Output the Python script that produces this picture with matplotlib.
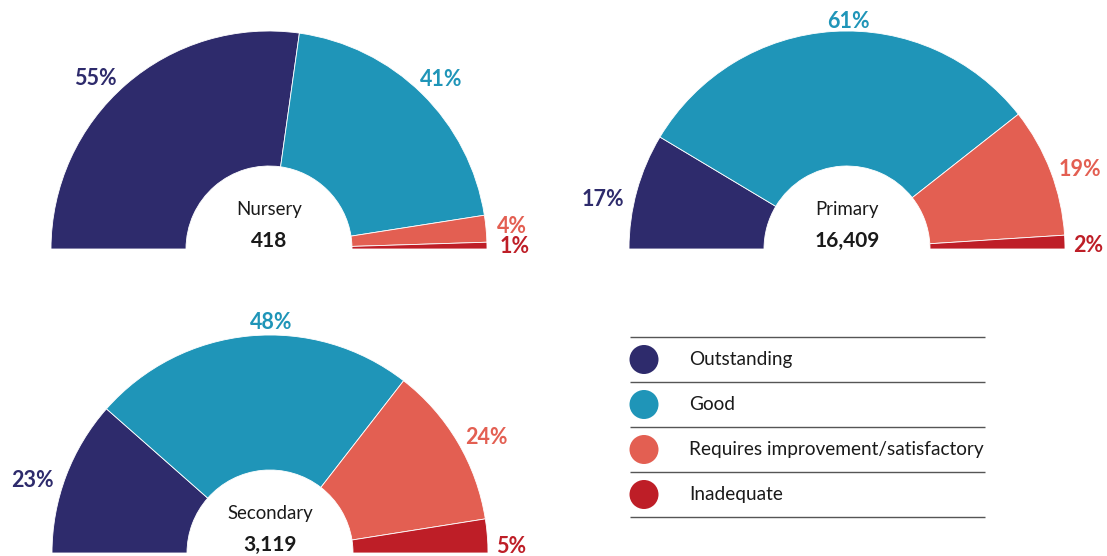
import matplotlib
matplotlib.use("Agg")
import matplotlib.pyplot as plt
from matplotlib.patches import Circle
import numpy as np

plt.rcParams['font.family'] = ['Lato', 'DejaVu Sans']

# ---- data ----
categories = ["Outstanding", "Good", "Requires improvement/satisfactory", "Inadequate"]
colors = ["#2E2B6C", "#1F95B8", "#E35F52", "#BE1E27"]
phases = ["Nursery", "Primary", "Secondary"]
totals = ["418", "16,409", "3,119"]
nursery = [55, 41, 4, 1]
primary = [17, 61, 19, 2]
secondary = [23, 48, 24, 5]
series = [nursery, primary, secondary]

# ---- layout (pixel-like coordinates, y up) ----
W, H = 1107, 556
fig = plt.figure(figsize=(W / 100, H / 100), dpi=100)
ax = fig.add_axes([0, 0, 1, 1])

centers = [(269, 307), (847, 307), (270, 3)]
R_OUT, R_IN = 218, 83
# small per-label nudges (layout only): angle in degrees, radial in px
ang_nudges = [[4.2, -0.7, 0.4, 0.1],
              [3.5, -3.9, -1.7, -0.4],
              [3.2, -5.6, -2.0, -2.4]]
rad_nudges = [[2, 0, -4, -2],
              [2, -2, 0, -7],
              [2, 1, 0, -7]]

for vals, (cx, cy), name, tot, an, rn in zip(series, centers, phases, totals,
                                             ang_nudges, rad_nudges):
    total = sum(vals)
    wedges, _ = ax.pie(vals + [total], radius=R_OUT, center=(cx, cy),
                       startangle=180, counterclock=False,
                       colors=colors + ['none'],
                       wedgeprops=dict(width=R_OUT - R_IN, linewidth=0.6,
                                       edgecolor='white'),
                       frame=True)
    wedges[-1].set_visible(False)
    cum = 0
    for v, c, a, r in zip(vals, colors, an, rn):
        mid = 180 - (cum + v / 2) / total * 180
        cum += v
        theta = np.deg2rad(mid + a)
        d = 231 + 17 * abs(np.cos(theta)) + r
        ax.text(cx + d * np.cos(theta), cy + d * np.sin(theta) - 2, f"{v}%",
                ha='center', va='center', color=c, fontsize=15.5,
                fontweight='bold')
    ax.text(cx, cy + 39, name, ha='center', va='center', fontsize=13.4,
            color='#1a1a1a')
    ax.text(cx, cy + 8, tot, ha='center', va='center', fontsize=15,
            fontweight='bold', color='#1a1a1a')

# ---- legend ----
top = 556 - 337
step = 45
x0, x1 = 630, 985
for i in range(len(categories) + 1):
    y = top - i * step
    ax.plot([x0, x1], [y, y], color='#555555', lw=1.0, solid_capstyle='butt')
for i, (cat, c) in enumerate(zip(categories, colors)):
    y = top - (i + 0.5) * step
    ax.add_patch(Circle((644, y), 14.5, facecolor=c, edgecolor='none'))
    ax.text(689, y, cat, ha='left', va='center', fontsize=13.7, color='#1a1a1a')

ax.set_xlim(0, W)
ax.set_ylim(0, H)
ax.set_aspect('auto')
ax.axis('off')

fig.savefig("out.png", dpi=100, facecolor='white')
